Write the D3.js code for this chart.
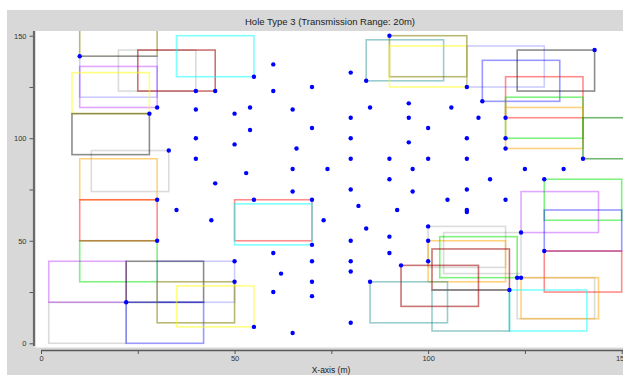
<!DOCTYPE html>
<html>
<head>
<meta charset="utf-8">
<script src="https://cdn.jsdelivr.net/npm/d3@7"></script>
<style>
  html, body { margin: 0; padding: 0; background: #ffffff; }
  svg { display: block; font-family: "Liberation Sans", Arial, Helvetica, sans-serif; }
</style>
</head>
<body>
<svg id="chart" width="623" height="375"></svg>
<script>
// Sensor field: node positions (m)
const nodeX = [10, 30, 28, 40, 45, 40, 40, 40, 33, 55, 30, 30, 35, 22, 50, 50, 55,
  60, 80, 90, 60, 70, 84, 54, 50, 65, 85, 95, 80, 95, 54, 70, 80, 95, 50, 66, 80, 90,
  53, 65, 74, 45, 65, 80, 90, 55, 70, 82, 92, 44, 73, 84, 80, 90, 70, 60, 90, 70, 80,
  62, 80, 93, 70, 60, 70, 85, 65, 80,
  110, 114, 143, 106, 113, 120, 100, 110, 120, 120, 100, 110, 140, 96, 125, 135, 116,
  130, 96, 110, 105, 120, 110, 110, 100, 100, 100, 124, 130, 123, 124, 121];
const nodeY = [140, 115, 112, 123, 123, 114, 100, 90, 94, 130, 70, 50, 65, 20, 40, 30, 8,
  136, 132, 150, 123, 125, 128, 115, 112, 114, 115, 117, 110, 110, 104, 105, 100, 98, 97, 95, 90, 90,
  83, 85, 85, 78, 74, 75, 80, 70, 70, 67, 65, 60, 60, 56, 50, 52, 48, 44, 44, 40, 40,
  34, 35, 38, 30, 25, 23, 30, 5, 10,
  125, 118, 143, 115, 110, 110, 105, 100, 100, 95, 90, 90, 90, 85, 85, 85, 80,
  80, 74, 75, 70, 70, 65, 64, 57, 50, 40, 54, 45, 32, 32, 26];

// Coverage squares: lower-left corner (m) and group of each square
const range = 20;
const boxX0 = [10, 20, 25, 35, 10, 10, 8, 8, 13, 10, 10, 10, 2, 2, 22, 22, 30, 30, 35, 50, 50,
  84, 90, 90, 110, 114, 123, 120, 120, 120, 140, 130, 124, 130, 130,
  100, 100, 103, 104, 123, 124, 101, 121, 101, 93, 85];
const boxY0 = [140, 123, 123, 130, 115, 120, 112, 92, 74, 70, 30, 50, 20, 0, 20, 0, 20, 10, 8, 50, 48,
  128, 130, 125, 125, 118, 123, 110, 100, 95, 90, 60, 54, 45, 25,
  37, 30, 32, 34, 12, 12, 26, 6, 6, 18, 10];
const boxGroup = ["olive", "lightgrey", "darkred", "cyan", "purple", "lightblue", "yellow", "black",
  "lightgrey", "orange", "green", "red", "purple", "lightgrey", "black", "blue", "lightblue", "olive",
  "yellow", "red", "cyan",
  "teal", "olive", "yellow", "lightblue", "blue", "black", "red", "green", "orange", "darkgreen",
  "green", "purple", "blue", "red",
  "lightgrey", "orange", "green", "lightgrey", "lightgrey", "orange", "darkred", "cyan", "teal",
  "darkred", "teal"];

const xTicks = [0, 25, 50, 75, 100, 125, 150];
const yTicks = [0, 25, 50, 75, 100, 125, 150];
const labelledTicks = [0, 50, 100, 150];
const titleText = "Hole Type 3 (Transmission Range: 20m)";
const xLabelText = "X-axis (m)";

// Stroke colour for each square group
const groupStroke = {
  red: "rgba(255,0,0,0.45)",
  darkred: "rgba(160,0,0,0.55)",
  green: "rgba(0,230,0,0.5)",
  darkgreen: "rgba(0,128,0,0.55)",
  blue: "rgba(0,0,255,0.4)",
  lightblue: "rgba(0,0,255,0.2)",
  cyan: "rgba(0,255,255,0.5)",
  yellow: "rgba(255,255,0,0.5)",
  olive: "rgba(128,128,0,0.55)",
  purple: "rgba(170,0,255,0.35)",
  black: "rgba(0,0,0,0.45)",
  lightgrey: "rgba(0,0,0,0.14)",
  orange: "rgba(255,165,0,0.5)",
  teal: "rgba(0,128,128,0.4)"
};

const svg = d3.select("#chart");
const x = d3.scaleLinear().domain([0, 150]).range([41, 621.7]);
const y = d3.scaleLinear().domain([0, 150]).range([343.3, 35.7]);

// Plot area bounds
const plotLeft = 35.5, plotTop = 31, plotBottom = 347.5;

// Figure background and axes area
svg.append("rect").attr("x", 7).attr("y", 10).attr("width", 640).attr("height", 380)
  .attr("fill", "#d8d8d8");
svg.append("rect").attr("x", plotLeft).attr("y", plotTop)
  .attr("width", 640 - plotLeft).attr("height", plotBottom - plotTop)
  .attr("fill", "#ffffff");

svg.append("defs").append("clipPath").attr("id", "plot-clip")
  .append("rect").attr("x", plotLeft).attr("y", plotTop)
  .attr("width", 640 - plotLeft).attr("height", plotBottom - plotTop);

const plot = svg.append("g").attr("clip-path", "url(#plot-clip)");

// Coverage squares
const boxes = boxX0.map((d, i) => ({ x0: d, y0: boxY0[i], g: boxGroup[i] }));
plot.append("g").selectAll("rect").data(boxes).join("rect")
  .attr("x", d => x(d.x0))
  .attr("y", d => y(d.y0 + range))
  .attr("width", d => x(d.x0 + range) - x(d.x0))
  .attr("height", d => y(d.y0) - y(d.y0 + range))
  .attr("fill", "none")
  .attr("stroke", d => groupStroke[d.g])
  .attr("stroke-width", 1.6);

// Sensor nodes
const nodes = nodeX.map((d, i) => ({ x: d, y: nodeY[i] }));
plot.append("g").selectAll("circle").data(nodes).join("circle")
  .attr("cx", d => x(d.x))
  .attr("cy", d => y(d.y))
  .attr("r", 2.2)
  .attr("fill", "#0000ff");

// Y axis
const yAxis = d3.axisLeft(y).tickValues(yTicks)
  .tickFormat(d => labelledTicks.includes(d) ? d : "")
  .tickSize(4.5).tickPadding(3);
const gy = svg.append("g").attr("transform", "translate(34,0)").call(yAxis);
gy.select(".domain").remove();
gy.selectAll(".tick line").attr("stroke", "#555").attr("stroke-width", 1);
gy.selectAll(".tick text").attr("fill", "#333").attr("font-size", 7.5)
  .attr("font-family", "Liberation Sans, Arial, sans-serif");
svg.append("line").attr("x1", 34).attr("x2", 34).attr("y1", plotTop).attr("y2", 346)
  .attr("stroke", "#6a6a6a").attr("stroke-width", 2.2);

// X axis
const xAxis = d3.axisBottom(x).tickValues(xTicks)
  .tickFormat(d => labelledTicks.includes(d) ? d : "")
  .tickSize(3.5).tickPadding(2);
const gx = svg.append("g").attr("transform", "translate(0,350.5)").call(xAxis);
gx.select(".domain").remove();
gx.selectAll(".tick line").attr("stroke", "#555").attr("stroke-width", 1);
gx.selectAll(".tick text").attr("fill", "#333").attr("font-size", 7.5)
  .attr("font-family", "Liberation Sans, Arial, sans-serif");
svg.append("line").attr("x1", x(0)).attr("x2", 640).attr("y1", 350.5).attr("y2", 350.5)
  .attr("stroke", "#5a5a5a").attr("stroke-width", 1.3);

// Title and axis label
svg.append("text").attr("x", 330).attr("y", 25).attr("text-anchor", "middle")
  .attr("font-size", 9.5).attr("fill", "#222").text(titleText);
svg.append("text").attr("x", 331).attr("y", 373).attr("text-anchor", "middle")
  .attr("font-size", 8.5).attr("fill", "#222").text(xLabelText);
</script>
</body>
</html>
